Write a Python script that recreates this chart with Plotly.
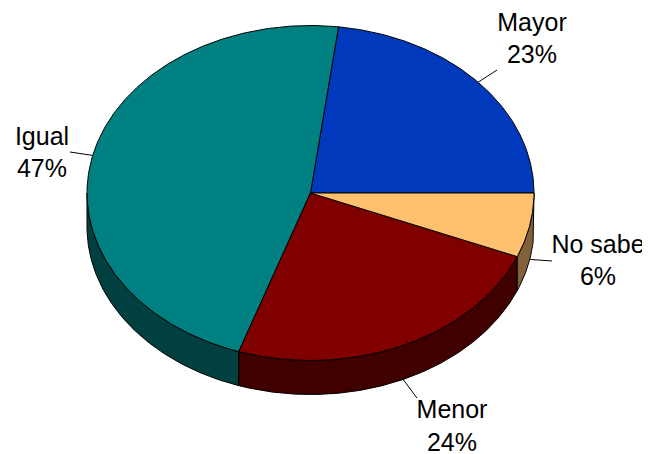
import numpy as np
import plotly.graph_objects as go

categories = ["Mayor", "Igual", "Menor", "No sabe"]
values = [23.0, 46.8, 24.0, 6.2]
top_colors = ["#0039BB", "#008080", "#800000", "#FFC16E"]
side_colors = ["#001D5E", "#004040", "#400000", "#80613A"]
label_centers = [(532, 40.5), (42, 154.5), (452, 428), (598, 262.5)]
leader_ends = [(497, 70), (70, 152), (417, 398), (552, 261)]

CX, CY, RX, RY, DEPTH = 310.5, 193, 223.5, 167.5, 34
PAGE_OFFSET = 8  # the page body's margin; the axis range compensates for it
EDGE = dict(color="#000000", width=1)


def ellipse(deg0, deg1, dy=0):
    t = np.radians(np.linspace(deg0, deg1, max(int(abs(deg1 - deg0) * 2), 2)))
    return CX + RX * np.cos(t), CY - RY * np.sin(t) + dy


fig = go.Figure()
edges = np.concatenate([[0], np.cumsum(values)]) * 360 / sum(values)

# Side walls: only the front half of the pie (180 to 360 degrees) is visible
for start, end, color in zip(edges[:-1], edges[1:], side_colors):
    a, b = max(start, 180), min(end, 360)
    if b <= a:
        continue
    x0, y0 = ellipse(a, b)
    x1, y1 = ellipse(b, a, DEPTH)
    fig.add_trace(go.Scatter(
        x=np.concatenate([x0, x1, x0[:1]]), y=np.concatenate([y0, y1, y0[:1]]),
        mode="lines", fill="toself", fillcolor=color, line=EDGE, hoverinfo="skip",
    ))

# Top faces
for start, end, color in zip(edges[:-1], edges[1:], top_colors):
    x0, y0 = ellipse(start, end)
    fig.add_trace(go.Scatter(
        x=np.concatenate([[CX], x0, [CX]]), y=np.concatenate([[CY], y0, [CY]]),
        mode="lines", fill="toself", fillcolor=color, line=EDGE, hoverinfo="skip",
    ))

# Leader lines and labels
mids = (edges[:-1] + edges[1:]) / 2
for mid, (lx, ly) in zip(mids, leader_ends):
    t = np.radians(mid)
    px, py = CX + RX * np.cos(t), CY - RY * np.sin(t)
    if np.sin(t) < 0:
        py += DEPTH
    fig.add_trace(go.Scatter(x=[px, lx], y=[py, ly], mode="lines",
                             line=dict(color="#000000", width=1), hoverinfo="skip"))

fig.add_trace(go.Scatter(
    x=[c[0] for c in label_centers], y=[c[1] for c in label_centers],
    mode="text",
    text=[f"{c}<br>{round(v)}%" for c, v in zip(categories, values)],
    textposition="middle center",
    textfont=dict(family="Liberation Sans", size=25, color="#000000"),
    hoverinfo="skip",
))

fig.update_layout(
    width=650, height=454, margin=dict(l=0, r=0, t=0, b=0),
    paper_bgcolor="#FFFFFF", plot_bgcolor="#FFFFFF", showlegend=False,
    xaxis=dict(range=[PAGE_OFFSET, 650 + PAGE_OFFSET], visible=False, fixedrange=True),
    yaxis=dict(range=[454 + PAGE_OFFSET, PAGE_OFFSET], visible=False, fixedrange=True),
)
fig.write_html("out.html", config=dict(displayModeBar=False))
